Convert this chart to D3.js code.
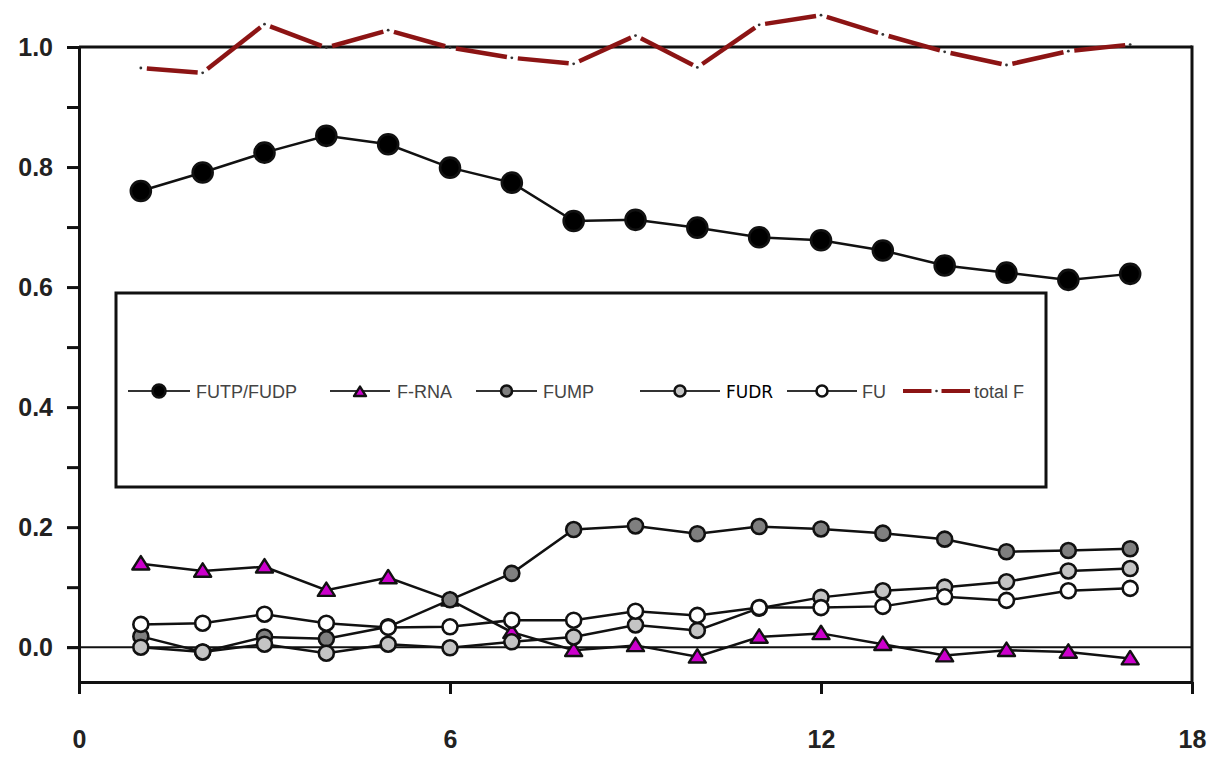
<!DOCTYPE html>
<html>
<head>
<meta charset="utf-8">
<script src="https://cdn.jsdelivr.net/npm/d3@7"></script>
<style>
    html, body { margin: 0; padding: 0; background: #fff; }
    svg { display: block; }
    .axis text { font-family: "Liberation Sans", Arial, sans-serif; font-weight: bold; font-size: 25px; fill: #222; }
    .legend text { font-family: "Liberation Sans", Arial, sans-serif; font-size: 18px; fill: #444; }
</style>
</head>
<body>
<div id="chart"></div>
<script>
'use strict';

// Time points (x) and the fraction of each species.
var timePoints = [1, 2, 3, 4, 5, 6, 7, 8, 9, 10, 11, 12, 13, 14, 15, 16, 17];
var futpValues = [0.760, 0.791, 0.824, 0.852, 0.838, 0.799, 0.774, 0.710, 0.712, 0.699, 0.683, 0.678, 0.661, 0.636, 0.624, 0.612, 0.622];
var frnaValues = [0.139, 0.127, 0.134, 0.095, 0.116, 0.079, 0.025, -0.005, 0.003, -0.016, 0.017, 0.023, 0.005, -0.014, -0.005, -0.008, -0.019];
var fumpValues = [0.018, -0.008, 0.017, 0.014, 0.034, 0.079, 0.123, 0.196, 0.202, 0.189, 0.201, 0.197, 0.190, 0.180, 0.159, 0.161, 0.164];
var fudrValues = [0.000, -0.008, 0.005, -0.010, 0.005, -0.001, 0.009, 0.017, 0.037, 0.028, 0.065, 0.083, 0.094, 0.100, 0.109, 0.127, 0.131];
var fuValues = [0.038, 0.040, 0.055, 0.040, 0.033, 0.034, 0.045, 0.045, 0.060, 0.053, 0.066, 0.066, 0.068, 0.084, 0.078, 0.094, 0.098];
var totalFValues = [0.965, 0.957, 1.038, 0.999, 1.028, 0.999, 0.982, 0.972, 1.019, 0.966, 1.037, 1.053, 1.021, 0.992, 0.970, 0.993, 1.004];

var seriesNames = ['FUTP/FUDP', 'F-RNA', 'FUMP', 'FUDR', 'FU', 'total F'];
var xTickValues = [0, 6, 12, 18];
var yTickValues = [0, 0.2, 0.4, 0.6, 0.8, 1.0];
var yMinorTickValues = [0.1, 0.3, 0.5, 0.7, 0.9];

var width = 1209,
    height = 757;

var svg = d3.select('#chart').append('svg')
    .attr('width', width)
    .attr('height', height);

var x = d3.scaleLinear().domain([0, 18]).range([79, 1192]);
var y = d3.scaleLinear().domain([-0.058, 1.0]).range([682, 47]);

// Series definitions (style only, values come from the arrays above).
var series = [
    {name: seriesNames[0], values: futpValues, shape: 'circle', fill: '#000', r: 10},
    {name: seriesNames[1], values: frnaValues, shape: 'triangle', fill: '#cc00cc', r: 8.5},
    {name: seriesNames[2], values: fumpValues, shape: 'circle', fill: '#7f7f7f', r: 7.5},
    {name: seriesNames[3], values: fudrValues, shape: 'circle', fill: '#c4c4c4', r: 7.5},
    {name: seriesNames[4], values: fuValues, shape: 'circle', fill: '#fff', r: 7.5}
];

function trianglePath(cx, cy, s) {
    var h = s * 0.9;
    return 'M' + cx + ',' + (cy - h) + 'L' + (cx + s) + ',' + (cy + h * 0.75) + 'L' + (cx - s) + ',' + (cy + h * 0.75) + 'Z';
}

function drawMarker(g, shape, cx, cy, r, fill) {
    if (shape === 'triangle') {
        g.append('path')
            .attr('d', trianglePath(cx, cy, r))
            .attr('fill', fill)
            .attr('stroke', '#111')
            .attr('stroke-width', 2.4)
            .attr('stroke-linejoin', 'round');
    } else {
        g.append('circle')
            .attr('cx', cx)
            .attr('cy', cy)
            .attr('r', r)
            .attr('fill', fill)
            .attr('stroke', '#111')
            .attr('stroke-width', 2.6);
    }
}

// Frame and axes.
svg.append('g')
    .attr('class', 'axis')
    .attr('transform', 'translate(' + x(0) + ',0)')
    .call(d3.axisLeft(y).tickValues(yTickValues).tickSize(12).tickSizeOuter(0).tickPadding(14)
        .tickFormat(d3.format('.1f')));

svg.append('g')
    .attr('class', 'axis minor')
    .attr('transform', 'translate(' + x(0) + ',0)')
    .call(d3.axisLeft(y).tickValues(yMinorTickValues).tickSize(12).tickSizeOuter(0).tickFormat(''));

svg.append('g')
    .attr('class', 'axis')
    .attr('transform', 'translate(0,' + y(-0.058) + ')')
    .call(d3.axisBottom(x).tickValues(xTickValues).tickSize(12).tickSizeOuter(0).tickPadding(36));

svg.selectAll('.axis path, .axis line')
    .attr('stroke', '#111')
    .attr('stroke-width', 3);

svg.selectAll('.minor path').remove();

// Top and right frame lines.
svg.append('line')
    .attr('x1', x(0)).attr('x2', x(18))
    .attr('y1', y(1.0)).attr('y2', y(1.0))
    .attr('stroke', '#111').attr('stroke-width', 3);

svg.append('line')
    .attr('x1', x(18)).attr('x2', x(18))
    .attr('y1', y(1.0) - 1.5).attr('y2', y(-0.058))
    .attr('stroke', '#111').attr('stroke-width', 3);

// Zero reference line.
svg.append('line')
    .attr('x1', x(0) - 12).attr('x2', x(18))
    .attr('y1', y(0)).attr('y2', y(0))
    .attr('stroke', '#111').attr('stroke-width', 2);

// Legend box.
var legend = svg.append('g').attr('class', 'legend');

legend.append('rect')
    .attr('x', 116)
    .attr('y', 293)
    .attr('width', 930)
    .attr('height', 194)
    .attr('fill', '#fff')
    .attr('stroke', '#111')
    .attr('stroke-width', 3);

// total F: dash per segment with a dot at each time point.
var totalG = svg.append('g');
var gap = 6;

for (var i = 0; i < timePoints.length - 1; i++) {
    var x1 = x(timePoints[i]), y1 = y(totalFValues[i]),
        x2 = x(timePoints[i + 1]), y2 = y(totalFValues[i + 1]),
        len = Math.sqrt((x2 - x1) * (x2 - x1) + (y2 - y1) * (y2 - y1)),
        ux = (x2 - x1) / len, uy = (y2 - y1) / len;

    totalG.append('line')
        .attr('x1', x1 + ux * gap).attr('y1', y1 + uy * gap)
        .attr('x2', x2 - ux * (gap - 1)).attr('y2', y2 - uy * (gap - 1))
        .attr('stroke', '#8c1414')
        .attr('stroke-width', 4.5);
}

totalG.selectAll('circle')
    .data(totalFValues)
    .enter().append('circle')
    .attr('cx', function (d, idx) { return x(timePoints[idx]); })
    .attr('cy', function (d) { return y(d); })
    .attr('r', 1.4)
    .attr('fill', '#333');

// The other series: line, then markers.
var line = d3.line()
    .x(function (d, idx) { return x(timePoints[idx]); })
    .y(function (d) { return y(d); });

series.forEach(function (s) {
    var g = svg.append('g');

    g.append('path')
        .attr('d', line(s.values))
        .attr('fill', 'none')
        .attr('stroke', '#111')
        .attr('stroke-width', 2.5);

    s.values.forEach(function (v, idx) {
        drawMarker(g, s.shape, x(timePoints[idx]), y(v), s.r, s.fill);
    });
});

// Legend entries: sample line, marker, label.
var legendY = 391;
var legendLayout = [
    {x0: 128, x1: 190, tx: 196},
    {x0: 330, x1: 390, tx: 397},
    {x0: 476, x1: 537, tx: 543},
    {x0: 640, x1: 720, tx: 726},
    {x0: 787, x1: 857, tx: 862},
    {x0: 903, x1: 970, tx: 974}
];

seriesNames.forEach(function (name, idx) {
    var pos = legendLayout[idx];

    if (idx < series.length) {
        legend.append('line')
            .attr('x1', pos.x0).attr('x2', pos.x1)
            .attr('y1', legendY).attr('y2', legendY)
            .attr('stroke', '#333')
            .attr('stroke-width', 2);

        drawMarker(legend, series[idx].shape, (pos.x0 + pos.x1) / 2, legendY + (series[idx].shape === 'triangle' ? 1 : 0),
            series[idx].shape === 'triangle' ? 6 : (idx === 0 ? 6.5 : 5.5), series[idx].fill);
    } else {
        var mid = (pos.x0 + pos.x1) / 2;
        legend.append('line')
            .attr('x1', pos.x0).attr('x2', mid - 5)
            .attr('y1', legendY).attr('y2', legendY)
            .attr('stroke', '#8c1414').attr('stroke-width', 4);
        legend.append('line')
            .attr('x1', mid + 5).attr('x2', pos.x1)
            .attr('y1', legendY).attr('y2', legendY)
            .attr('stroke', '#8c1414').attr('stroke-width', 4);
        legend.append('circle')
            .attr('cx', mid).attr('cy', legendY).attr('r', 1.3).attr('fill', '#333');
    }

    legend.append('text')
        .attr('x', pos.tx)
        .attr('y', legendY + 7)
        .style('fill', name === 'FUDR' ? '#000' : '#444')
        .style('font-family', name === 'FUDR' ? '"DejaVu Sans", sans-serif' : null)
        .style('font-size', name === 'FUDR' ? '17px' : null)
        .text(name);
});
</script>
</body>
</html>
